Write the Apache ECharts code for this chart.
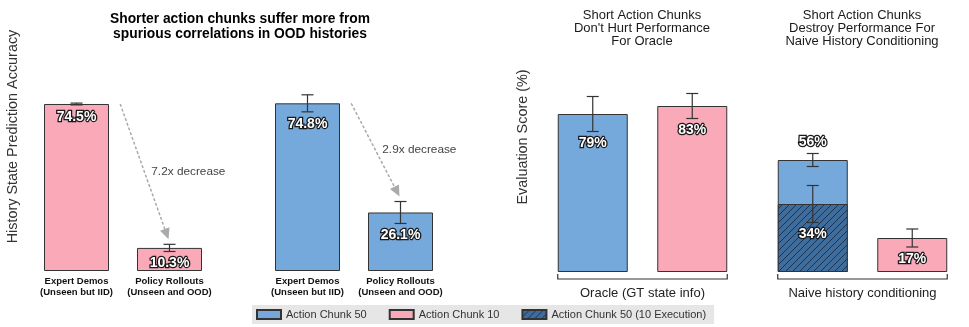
<!DOCTYPE html>
<html><head><meta charset="utf-8">
<script src="https://cdn.jsdelivr.net/npm/echarts@6/dist/echarts.min.js"></script>
<style>html,body{margin:0;padding:0;background:#fff}#c{width:969px;height:327px}</style>
</head><body><div id="c"></div>
<script>
// ---- data ----
const accCategories = ['Expert Demos\n(Unseen but IID)', 'Policy Rollouts\n(Unseen and OOD)'];
const accChunk10 = [74.5, 10.3];
const accChunk10Err = [0.4, 1.6];
const accChunk50 = [74.8, 26.1];
const accChunk50Err = [3.8, 4.9];
const accDecrease = ['7.2x decrease', '2.9x decrease'];

const evalGroups = ['Oracle (GT state info)', 'Naive history conditioning'];
const evalCategories = ['Action Chunk 50', 'Action Chunk 10'];
const evalChunk50 = [79, 56];
const evalChunk50Err = [8.75, 3.25];
const evalChunk10 = [83, 17];
const evalChunk10Err = [6.25, 4.5];
const evalChunk50Exec10 = [null, 34];
const evalChunk50Exec10Err = [null, 9.25];

const panelTitles = [
  'Shorter action chunks suffer more from\nspurious correlations in OOD histories',
  'Short Action Chunks\nDon\'t Hurt Performance\nFor Oracle',
  'Short Action Chunks\nDestroy Performance For\nNaive History Conditioning'
];

// ---- styles ----
const FONT = '"Liberation Sans", Arial, Helvetica, sans-serif';
const BLUE = '#75a9dc', PINK = '#f9a9b8', DARK = '#3e6d9d';
const BORDER = '#333';
const ACC_BAR_W = 65, EVAL_BAR_W = 70;

const tile = document.createElement('canvas');
tile.width = 7; tile.height = 7;
(function(){
  const g = tile.getContext('2d');
  g.fillStyle = DARK; g.fillRect(0,0,7,7);
  g.strokeStyle = '#1b3350'; g.lineWidth = 1;
  g.beginPath();
  g.moveTo(0,7); g.lineTo(7,0);
  g.moveTo(-1,1); g.lineTo(1,-1);
  g.moveTo(6,8); g.lineTo(8,6);
  g.stroke();
})();
const HATCH = {image: tile, repeat: 'repeat'};

function fmtAcc(v){ return v.toFixed(1) + '%'; }
function fmtEval(v){ return Math.round(v) + '%'; }

function makeErrRender(fmt){
  return function(params, api){
    const x = api.value(0), v = api.value(1), e = api.value(2), above = api.value(3);
    const pt = api.coord([x, v + e]), pb = api.coord([x, v - e]);
    const cx = pt[0], cw = 6;
    const ls = {stroke: '#333', lineWidth: 1.2};
    return {type: 'group', children: [
      {type:'line', shape:{x1:cx, y1:pt[1], x2:cx, y2:pb[1]}, style: ls},
      {type:'line', shape:{x1:cx-cw, y1:pt[1], x2:cx+cw, y2:pt[1]}, style: ls},
      {type:'line', shape:{x1:cx-cw, y1:pb[1], x2:cx+cw, y2:pb[1]}, style: ls},
      {type:'text', z2: 10, style:{text: fmt(v), x: cx, y: above ? pt[1] - 11 : pb[1] + 12,
        align:'center', verticalAlign:'middle', fill:'#fff', stroke:'#1a1a1a', lineWidth:2.6,
        strokeFirst:true, fontSize:14, fontWeight:'bold', fontFamily: FONT}}
    ]};
  };
}

function makeArrowRender(label){
  return function(params, api){
    const v0 = api.value(0), v1 = api.value(1);
    const band = api.size([1, 0])[0];
    const a = api.coord([0, v0]), b = api.coord([1, v1]);
    const sx = a[0] + band * 0.47, sy = a[1];
    const ex = b[0] - 1, ey = b[1] - 5;
    const ang = Math.atan2(ey - sy, ex - sx), L = 11, W = 5;
    const bx = ex - L * Math.cos(ang), by = ey - L * Math.sin(ang);
    const s = Math.sin(ang), c = Math.cos(ang);
    return {type:'group', children:[
      {type:'line', shape:{x1:sx, y1:sy, x2:bx, y2:by}, style:{stroke:'#aaa', lineWidth:1.5, lineDash:[3,2]}},
      {type:'polygon', shape:{points:[[ex,ey],[bx - W*s, by + W*c],[bx + W*s, by - W*c]]}, style:{fill:'#aaa'}},
      {type:'text', style:{text: label, x:(sx+ex)/2 + 44, y:(sy+ey)/2, align:'center', verticalAlign:'middle',
        fill:'#444', fontSize:11.8, fontFamily: FONT}}
    ]};
  };
}

function bracketRender(params, api){
  const c0 = api.coord([0, 0]), c1 = api.coord([1, 0]);
  const l = c0[0] - EVAL_BAR_W/2, r = c1[0] + EVAL_BAR_W/2, y = c0[1] + 7;
  return {type:'polyline', shape:{points:[[l, y-5],[l, y],[r, y],[r, y-5]]}, style:{stroke:'#333', lineWidth:1.2, fill:null}};
}

// ---- layout ----
const grids = [
  {left:30, width:186, top:2, height:269},
  {left:261, width:186, top:2, height:269},
  {left:543, width:199, top:2, height:270},
  {left:763, width:199, top:2, height:270}
];

const xAxes = [0,1].map(i => ({
  type:'category', gridIndex:i, data: accCategories,
  axisLine:{show:false}, axisTick:{show:false},
  axisLabel:{fontSize:9.5, fontWeight:'bold', color:'#111', lineHeight:11, margin:5, fontFamily: FONT, interval:0}
})).concat([0,1].map(g => ({
  type:'category', gridIndex:2+g, data: evalCategories,
  axisLine:{show:false}, axisTick:{show:false}, axisLabel:{show:false},
  name: evalGroups[g], nameLocation:'middle', nameGap:15,
  nameTextStyle:{fontSize:13, color:'#222', fontFamily: FONT}
})));

const yAxes = [
  {type:'value', gridIndex:0, min:0, max:120, show:true, axisLine:{show:false}, axisTick:{show:false}, axisLabel:{show:false}, splitLine:{show:false},
    name:'History State Prediction Accuracy', nameLocation:'middle', nameGap:10, nameTextStyle:{fontSize:14.4, color:'#333', fontFamily: FONT}},
  {type:'value', gridIndex:1, min:0, max:120, axisLine:{show:false}, axisTick:{show:false}, axisLabel:{show:false}, splitLine:{show:false}},
  {type:'value', gridIndex:2, min:0, max:135, axisLine:{show:false}, axisTick:{show:false}, axisLabel:{show:false}, splitLine:{show:false},
    name:'Evaluation Score (%)', nameLocation:'middle', nameGap:13, nameTextStyle:{fontSize:14.4, color:'#333', fontFamily: FONT}},
  {type:'value', gridIndex:3, min:0, max:135, axisLine:{show:false}, axisTick:{show:false}, axisLabel:{show:false}, splitLine:{show:false}}
];

const N50 = 'Action Chunk 50', N10 = 'Action Chunk 10', NEX = 'Action Chunk 50 (10 Execution)';
const series = [];

// panel 1: chunk 10
series.push({type:'bar', name:N10, xAxisIndex:0, yAxisIndex:0, data: accChunk10, barWidth:ACC_BAR_W,
  itemStyle:{color:PINK, borderColor:BORDER, borderWidth:1}});
series.push({type:'custom', xAxisIndex:0, yAxisIndex:0, z:5, renderItem: makeErrRender(fmtAcc),
  data: accChunk10.map((v,i)=>[i, v, accChunk10Err[i], 0])});
series.push({type:'custom', xAxisIndex:0, yAxisIndex:0, z:4, renderItem: makeArrowRender(accDecrease[0]),
  data: [[accChunk10[0], accChunk10[1] + accChunk10Err[1]]]});
// panel 2: chunk 50
series.push({type:'bar', name:N50, xAxisIndex:1, yAxisIndex:1, data: accChunk50, barWidth:ACC_BAR_W,
  itemStyle:{color:BLUE, borderColor:BORDER, borderWidth:1}});
series.push({type:'custom', xAxisIndex:1, yAxisIndex:1, z:5, renderItem: makeErrRender(fmtAcc),
  data: accChunk50.map((v,i)=>[i, v, accChunk50Err[i], 0])});
series.push({type:'custom', xAxisIndex:1, yAxisIndex:1, z:4, renderItem: makeArrowRender(accDecrease[1]),
  data: [[accChunk50[0], accChunk50[1] + accChunk50Err[1]]]});

// panels 3 and 4
[0,1].forEach(g => {
  const ax = 2 + g;
  series.push({type:'bar', name:N50, xAxisIndex:ax, yAxisIndex:ax, data:[evalChunk50[g], '-'], barWidth:EVAL_BAR_W, barGap:'-100%',
    itemStyle:{color:BLUE, borderColor:BORDER, borderWidth:1}});
  series.push({type:'bar', name:N10, xAxisIndex:ax, yAxisIndex:ax, data:['-', evalChunk10[g]], barWidth:EVAL_BAR_W, barGap:'-100%',
    itemStyle:{color:PINK, borderColor:BORDER, borderWidth:1}});
  const errData = [
    [0, evalChunk50[g], evalChunk50Err[g], evalChunk50Exec10[g] != null ? 1 : 0],
    [1, evalChunk10[g], evalChunk10Err[g], 0]
  ];
  if (evalChunk50Exec10[g] != null) {
    series.push({type:'bar', name:NEX, xAxisIndex:ax, yAxisIndex:ax, data:[evalChunk50Exec10[g], '-'], barWidth:EVAL_BAR_W, barGap:'-100%',
      itemStyle:{color:HATCH, borderColor:BORDER, borderWidth:1}});
    errData.push([0, evalChunk50Exec10[g], evalChunk50Exec10Err[g], 0]);
  }
  series.push({type:'custom', xAxisIndex:ax, yAxisIndex:ax, z:5, renderItem: makeErrRender(fmtEval), data: errData});
  series.push({type:'custom', xAxisIndex:ax, yAxisIndex:ax, z:4, renderItem: bracketRender, data: [[0, 0]]});
});

const chart = echarts.init(document.getElementById('c'), null, {renderer:'canvas'});
chart.setOption({
  animation:false,
  backgroundColor:'#fff',
  grid: grids,
  xAxis: xAxes,
  yAxis: yAxes,
  series: series,
  legend: {
    data:[N50, N10, NEX], left:252, top:305, orient:'horizontal',
    backgroundColor:'#e6e6e6', padding:[4,8,4,4], itemGap:22, itemWidth:24, itemHeight:9, itemTextGap:8,
    icon:'rect', selectedMode:false,
    textStyle:{fontSize:11, color:'#333', fontFamily: FONT}
  },
  graphic: [
    {type:'text', x:240, y:12, style:{text: panelTitles[0], align:'center', verticalAlign:'top', fontSize:13.8, fontWeight:'bold', lineHeight:15, fill:'#000', fontFamily: FONT}},
    {type:'text', x:642, y:8.5, style:{text: panelTitles[1], align:'center', verticalAlign:'top', fontSize:13, lineHeight:13, fill:'#1a1a1a', fontFamily: FONT}},
    {type:'text', x:862, y:8.5, style:{text: panelTitles[2], align:'center', verticalAlign:'top', fontSize:13, lineHeight:13, fill:'#1a1a1a', fontFamily: FONT}}
  ]
});
</script></body></html>
